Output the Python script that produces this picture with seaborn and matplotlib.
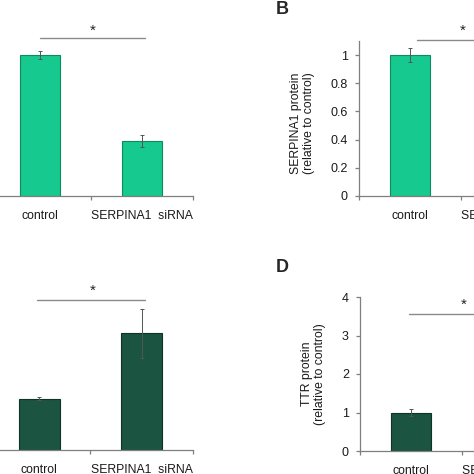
import matplotlib
matplotlib.use("Agg")
import matplotlib.pyplot as plt
import seaborn as sns
import pandas as pd

sns.set_theme(style="white")
plt.rcParams['font.family'] = ['Liberation Sans', 'DejaVu Sans']

categories = ["control", "SERPINA1  siRNA"]

# Panel A (mRNA, y axis cropped)
a_values = [1.0, 0.39]
a_errors = [0.03, 0.045]
# Panel B (SERPINA1 protein; second bar cropped out of view)
b_values = [1.0, 0.35]
b_errors = [0.05, 0.05]
b_ticks = [0, 0.2, 0.4, 0.6, 0.8, 1]
b_ticklabels = ["0", "0.2", "0.4", "0.6", "0.8", "1"]
# Panel C (TTR mRNA, y axis cropped)
c_values = [1.0, 2.27]
c_errors = [0.03, 0.47]
# Panel D (TTR protein; second bar cropped out of view)
d_values = [1.0, 2.5]
d_errors = [0.08, 0.3]
d_ticks = [0, 1, 2, 3, 4]
d_ticklabels = ["0", "1", "2", "3", "4"]

light = "#16C98E"
light_edge = "#0E8A5F"
dark = "#1B5440"
dark_edge = "#0F3327"
axcol = "#7F7F7F"

W = H = 474
fig = plt.figure(figsize=(4.74, 4.74), dpi=100)

def px_axes(left, bottom_px_from_top, width, height):
    return fig.add_axes([left / W, (H - bottom_px_from_top) / H, width / W, height / H])

def draw(ax, values, errors, color, edge, ylim, sig_y, star_y, sig_x0=0.0):
    df = pd.DataFrame({"cat": categories, "val": values})
    sns.barplot(data=df, x="cat", y="val", ax=ax, color=color, width=0.4,
                errorbar=None, edgecolor=edge, linewidth=0.8, saturation=1)
    ax.errorbar(range(len(values)), values, yerr=errors, fmt="none",
                ecolor="#555555", elinewidth=0.7, capsize=1.5, capthick=0.7)
    ax.set_xlim(-0.5, 1.5)
    ax.set_ylim(*ylim)
    ax.set_xlabel("")
    ax.set_ylabel("")
    for s in ["top", "right"]:
        ax.spines[s].set_visible(False)
    for s in ["left", "bottom"]:
        ax.spines[s].set_color(axcol)
        ax.spines[s].set_linewidth(0.9)
    ax.set_xticks([0, 1])
    ax.set_xticklabels(categories, fontsize=8.8, color="#1a1a1a")
    ax.set_xticks([-0.5, 0.5, 1.5], minor=True)
    ax.tick_params(axis="x", which="major", length=0, pad=10)
    ax.tick_params(axis="x", which="minor", length=3, direction="out",
                   color=axcol, width=0.9, bottom=True)
    ax.tick_params(axis="y", length=3, direction="out", color=axcol, width=0.9,
                   left=True, labelsize=9, labelcolor="#1a1a1a", pad=5)
    ax.plot([sig_x0, 1.03], [sig_y, sig_y], color="#8a8a8a", lw=1.0, clip_on=False)
    ax.text(0.52, star_y, "*", ha="center", va="center", fontsize=11, color="#222222",
            clip_on=False)
    ax.set_facecolor("none")

# A
axA = px_axes(-11, 196, 204, 155)
draw(axA, a_values, a_errors, light, light_edge, (0, 1.1), 1.12, 1.17)
axA.set_yticks([])

# B
axB = px_axes(359, 196, 204, 155)
draw(axB, b_values, b_errors, light, light_edge, (0, 1.1), 1.11, 1.17, sig_x0=0.07)
axB.set_yticks(b_ticks)
axB.set_yticklabels(b_ticklabels)
axB.set_ylabel("SERPINA1 protein\n(relative to control)", fontsize=8.8, color="#1a1a1a",
               linespacing=1.1)
axB.yaxis.set_label_coords(-0.215, 0.47)

# C
axC = px_axes(-12, 450, 205, 154)
draw(axC, c_values, c_errors, dark, dark_edge, (0, 3), 2.92, 3.1, sig_x0=-0.02)
axC.set_yticks([])

# D
axD = px_axes(360, 451, 204, 154)
draw(axD, d_values, d_errors, dark, dark_edge, (0, 4), 3.56, 3.8, sig_x0=-0.02)
axD.set_yticks(d_ticks)
axD.set_yticklabels(d_ticklabels)
axD.set_ylabel("TTR protein\n(relative to control)", fontsize=8.8, color="#1a1a1a",
               linespacing=1.1)
axD.yaxis.set_label_coords(-0.165, 0.5)

fig.text(276 / W, 1 - 9 / H, "B", fontsize=13, fontweight="bold", ha="left", va="center")
fig.text(276 / W, 1 - 268 / H, "D", fontsize=13, fontweight="bold", ha="left", va="center")

fig.savefig("out.png", dpi=100, facecolor="white")
